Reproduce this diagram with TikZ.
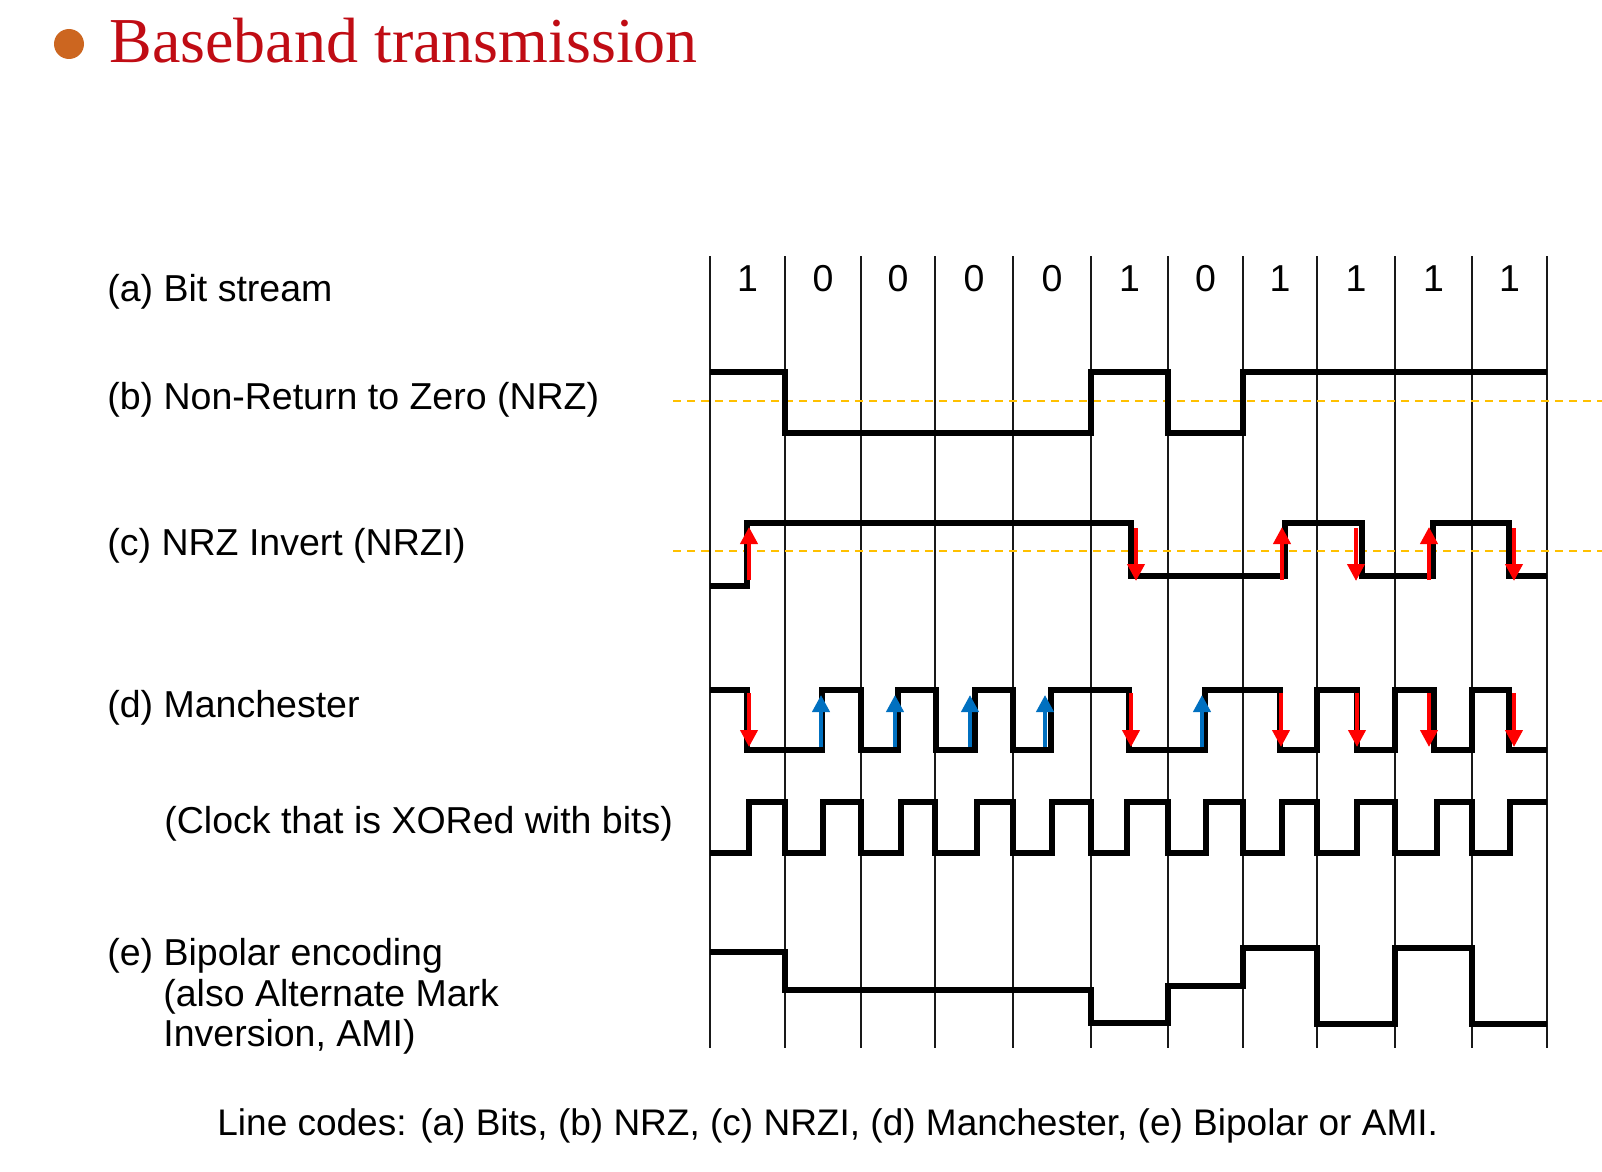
\documentclass[tikz,border=0pt]{standalone}
\usepackage{fontspec}
\setmainfont{Liberation Sans}
\newfontfamily\titlefont{Liberation Serif}
\usetikzlibrary{arrows.meta}

\definecolor{titlered}{RGB}{192,12,20}
\definecolor{bulletorange}{RGB}{204,102,32}
\definecolor{refamber}{RGB}{255,192,0}
\definecolor{flipred}{RGB}{255,0,0}
\definecolor{flipblue}{RGB}{0,112,192}

\tikzset{
  label/.style={anchor=base west, inner sep=0pt, font=\fontsize{18.75}{20}\selectfont},
  bitlabel/.style={anchor=base, inner sep=0pt, font=\fontsize{18.75}{20}\selectfont},
  gridline/.style={line width=0.85pt, black!90},
  signal/.style={line width=2.7pt, black, line join=miter},
  midline/.style={line width=0.8pt, refamber, dash pattern=on 4pt off 3pt},
  fliparrow/.style={line width=2pt, -{Triangle[width=8.5pt,length=8.5pt]}},
}

\begin{document}
\begin{tikzpicture}[x=0.5pt, y=-0.5pt]
  \useasboundingbox (0,0) rectangle (1602,1172);
  \fill[white] (0,0) rectangle (1602,1172);

  % heading
  \fill[bulletorange] (69,44) circle (15);
  \node[anchor=base west, inner sep=0pt, text=titlered,
        font=\titlefont\fontsize{32}{34}\selectfont] (title) at (109,63) {Baseband transmission};

  % bit cell boundaries
  \foreach \x in {710,785,861,935,1013,1091,1168,1243,1317,1395,1472,1547}
    \draw[gridline] (\x,256) -- (\x,1048);

  % bit values
  \foreach \b [count=\i] in {1,0,0,0,0,1,0,1,1,1,1} {
    \pgfmathsetmacro{\cx}{{710,785,861,935,1013,1091,1168,1243,1317,1395,1472,1547}[\i-1]}
    \pgfmathsetmacro{\nx}{{710,785,861,935,1013,1091,1168,1243,1317,1395,1472,1547}[\i]}
    \node[bitlabel] (bit\i) at ({(\cx+\nx)/2},292) {\b};
  }

  % row labels
  \node[label] (la) at (107,301) {(a) Bit stream};
  \node[label] (lb) at (107,409) {(b) Non-Return to Zero (NRZ)};
  \node[label] (lc) at (107,555) {(c) NRZ Invert (NRZI)};
  \node[label] (ld) at (107,717) {(d) Manchester};
  \node[label] (lclk) at (164,833) {(Clock that is XORed with bits)};
  \node[label] (le1) at (107,965) {(e) Bipolar encoding};
  \node[label] (le2) at (163,1006) {(also Alternate Mark};
  \node[label] (le3) at (163,1046) {Inversion, AMI)};

  % zero reference lines
  \draw[midline] (673,401) -- (1602,401);
  \draw[midline] (673,551) -- (1602,551);

  % (b) NRZ
  \draw[signal] (710,372) -- (785,372) -- (785,433) -- (1091,433) -- (1091,372)
    -- (1168,372) -- (1168,433) -- (1243,433) -- (1243,372) -- (1547,372);

  % (c) NRZI
  \draw[signal] (710,586) -- (747,586) -- (747,523) -- (1131,523) -- (1131,576)
    -- (1285,576) -- (1285,523) -- (1362,523) -- (1362,576) -- (1433,576)
    -- (1433,523) -- (1509,523) -- (1509,576) -- (1547,576);
  \foreach \x in {749,1282,1429}
    \draw[fliparrow, flipred] (\x,580) -- (\x,527);
  \foreach \x in {1136,1356,1514}
    \draw[fliparrow, flipred] (\x,528) -- (\x,581);

  % (d) Manchester
  \draw[signal] (710,690) -- (747,690) -- (747,750) -- (822,750) -- (822,690)
    -- (861,690) -- (861,750) -- (898,750) -- (898,690) -- (936,690) -- (936,750)
    -- (975,750) -- (975,690) -- (1013,690) -- (1013,750) -- (1051,750) -- (1051,690)
    -- (1129,690) -- (1129,750) -- (1205,750) -- (1205,690) -- (1280,690) -- (1280,750)
    -- (1317,750) -- (1317,690) -- (1357,690) -- (1357,750) -- (1395,750) -- (1395,690)
    -- (1434,690) -- (1434,750) -- (1472,750) -- (1472,690) -- (1509,690) -- (1509,750)
    -- (1547,750);
  \foreach \x in {749,1131,1281,1357,1429,1514}
    \draw[fliparrow, flipred] (\x,693) -- (\x,747);
  \foreach \x in {821,895,970,1045,1202}
    \draw[fliparrow, flipblue] (\x,747) -- (\x,695);

  % clock
  \draw[signal] (710,853) -- (749,853) -- (749,802) -- (785,802) -- (785,853)
    -- (823,853) -- (823,802) -- (861,802) -- (861,853) -- (901,853) -- (901,802)
    -- (935,802) -- (935,853) -- (977,853) -- (977,802) -- (1013,802) -- (1013,853)
    -- (1052,853) -- (1052,802) -- (1091,802) -- (1091,853) -- (1127,853) -- (1127,802)
    -- (1168,802) -- (1168,853) -- (1206,853) -- (1206,802) -- (1243,802) -- (1243,853)
    -- (1282,853) -- (1282,802) -- (1317,802) -- (1317,853) -- (1357,853) -- (1357,802)
    -- (1395,802) -- (1395,853) -- (1437,853) -- (1437,802) -- (1472,802) -- (1472,853)
    -- (1510,853) -- (1510,802) -- (1547,802);

  % (e) Bipolar / AMI
  \draw[signal] (710,952) -- (785,952) -- (785,990) -- (1091,990) -- (1091,1023)
    -- (1168,1023) -- (1168,986) -- (1243,986) -- (1243,948) -- (1317,948)
    -- (1317,1024) -- (1395,1024) -- (1395,948) -- (1472,948) -- (1472,1024)
    -- (1547,1024);

  % caption
  \node[label, font=\fontsize{18.5}{20}\selectfont] (caption) at (217,1135)
    {Line codes: (a) Bits, (b) NRZ, (c) NRZI, (d) Manchester, (e) Bipolar or AMI.};
\end{tikzpicture}
\end{document}
